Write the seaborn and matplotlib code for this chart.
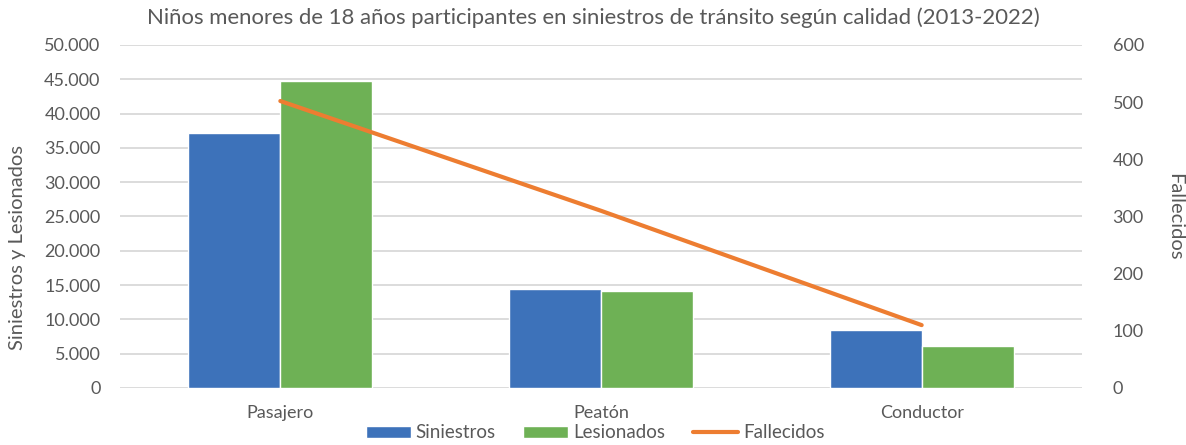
import matplotlib
matplotlib.use("Agg")
import matplotlib.pyplot as plt
import seaborn as sns
import pandas as pd
from matplotlib.patches import Patch
from matplotlib.lines import Line2D
from matplotlib.ticker import FuncFormatter, MultipleLocator

categorias = ["Pasajero", "Peatón", "Conductor"]
siniestros = [37100, 14500, 8450]
lesionados = [44800, 14150, 6100]
fallecidos = [502, 310, 110]
series = ["Siniestros", "Lesionados"]
colores = {"Siniestros": "#3D72BA", "Lesionados": "#6EB155"}
color_linea = "#ED7D31"
titulo = "Niños menores de 18 años participantes en siniestros de tránsito según calidad (2013-2022)"

sns.set_theme(style="white")
plt.rcParams["font.family"] = ["Lato", "DejaVu Sans"]
txt = "#595959"

df = pd.DataFrame({
    "Categoría": categorias * 2,
    "Serie": ["Siniestros"] * 3 + ["Lesionados"] * 3,
    "Valor": siniestros + lesionados,
})

fig = plt.figure(figsize=(11.86, 4.45), dpi=100)
ax = fig.add_axes([120 / 1186, 1 - 388 / 445, (1082 - 120) / 1186, (388 - 45) / 445])

sns.barplot(data=df, x="Categoría", y="Valor", hue="Serie", hue_order=series,
            palette=colores, width=0.573, gap=0, saturation=1, ax=ax, legend=False,
            errorbar=None, order=categorias)
ax.set_ylim(0, 50000)
ax.yaxis.set_major_locator(MultipleLocator(5000))
ax.yaxis.set_major_formatter(FuncFormatter(lambda v, p: f"{int(v):,}".replace(",", ".")))
ax.grid(axis="y", color="#D9D9D9", linewidth=1.3)
ax.set_axisbelow(True)
for s in ax.spines.values():
    s.set_visible(False)
ax.tick_params(axis="both", length=0, colors=txt, labelsize=13)
ax.tick_params(axis="x", pad=12)
ax.tick_params(axis="y", pad=14)
ax.set_xlabel("")
ax.set_ylabel("Siniestros y Lesionados", color=txt, fontsize=14.5, va="center")
ax.yaxis.set_label_coords((18 - 120) / 962, 0.41)

ax2 = ax.twinx()
sns.pointplot(x=categorias, y=fallecidos, color=color_linea, marker="", linewidth=3,
              ax=ax2, order=categorias)
ax2.set_ylim(0, 600)
ax2.yaxis.set_major_locator(MultipleLocator(100))
for s in ax2.spines.values():
    s.set_visible(False)
ax2.tick_params(axis="y", length=0, colors=txt, labelsize=13, pad=22)
ax2.set_ylabel("Fallecidos", color=txt, fontsize=14.5, rotation=270, va="center")
ax2.yaxis.set_label_coords((1175 - 120) / 962, 0.5)
ax.set_xlim(-0.5, 2.5)
ax2.set_xlim(-0.5, 2.5)
ax2.grid(False)

t = fig.text(0.5, 1 - 18 / 445, titulo, ha="center", va="center", color=txt, fontsize=15)
fig.canvas.draw()
w = t.get_window_extent().width
t.set_fontsize(15 * 894 / w)

handles = [Patch(facecolor=colores["Siniestros"]), Patch(facecolor=colores["Lesionados"]),
           Line2D([0], [0], color=color_linea, lw=3)]
fig.legend(handles, ["Siniestros", "Lesionados", "Fallecidos"], loc="center",
           bbox_to_anchor=(595 / 1186, 1 - 433 / 445), ncol=3, frameon=False,
           fontsize=13.5, labelcolor=txt, handlelength=2.4, handleheight=0.6,
           handletextpad=0.25, columnspacing=1.5, borderpad=0)

fig.savefig("out.png", dpi=100)
